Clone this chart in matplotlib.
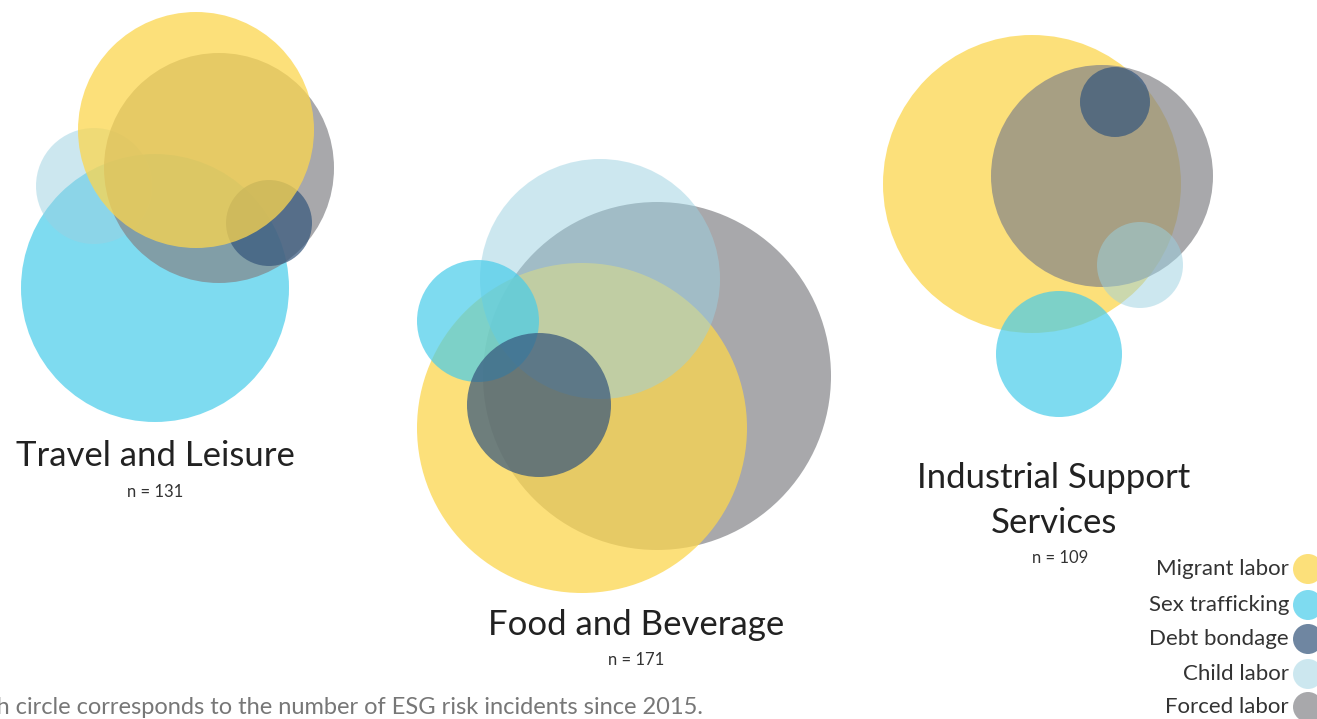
import matplotlib.pyplot as plt
from matplotlib.patches import Circle

plt.rcParams['font.family'] = ['Lato', 'DejaVu Sans']

# risk types (legend order), colours and opacity
risks = ['Migrant labor', 'Sex trafficking', 'Debt bondage', 'Child labor', 'Forced labor']
colors = ['#FCD64E', '#48CCEA', '#37587D', '#9BD1E1', '#838488']
alphas = [0.75, 0.7, 0.72, 0.5, 0.7]

# sectors
sectors = ['Travel and Leisure', 'Food and Beverage', 'Industrial Support']
sector_n = [131, 171, 109]

# circle centre / radius per sector, in risk order (pixel units of the layout)
travel_x = [196, 155, 269, 94, 219]
travel_y = [130, 288, 223, 186, 168]
travel_r = [118, 134, 43, 58, 115]

food_x = [582, 478, 539, 600, 657]
food_y = [428, 321, 405, 279, 376]
food_r = [165, 61, 72, 120, 174]

indus_x = [1032, 1059, 1115, 1140, 1102]
indus_y = [184, 354, 102, 265, 176]
indus_r = [149, 63, 35, 43, 111]

# drawing order (bottom to top) per sector
travel_order = [1, 3, 4, 2, 0]
food_order = [4, 0, 3, 1, 2]
indus_order = [0, 4, 2, 3, 1]

label_x = [155, 636, 1054]
label_y = [456, 625, 478]
n_x = [155, 636, 1060]
n_y = [492, 660, 558]

fig = plt.figure(figsize=(13.17, 7.19), dpi=100)
ax = fig.add_axes([0, 0, 1, 1])
ax.set_xlim(0, 1317)
ax.set_ylim(719, 0)
ax.axis('off')

groups = [(travel_x, travel_y, travel_r, travel_order),
          (food_x, food_y, food_r, food_order),
          (indus_x, indus_y, indus_r, indus_order)]
for gx, gy, gr, order in groups:
    for z, i in enumerate(order):
        ax.add_patch(Circle((gx[i], gy[i]), gr[i], color=colors[i], alpha=alphas[i],
                            lw=0, zorder=2 + z))

for k in range(3):
    ax.text(label_x[k], label_y[k], sectors[k], ha='center', va='center',
            fontsize=25, color='#222222')
    ax.text(n_x[k], n_y[k], 'n = %d' % sector_n[k],
            ha='center', va='center', fontsize=12, color='#333333')
ax.text(1054, 523, 'Services', ha='center', va='center', fontsize=25, color='#222222')

# legend
leg_y = [569, 605, 639, 674, 707]
for i in range(5):
    ax.add_patch(Circle((1308, leg_y[i]), 15, color=colors[i], alpha=alphas[i], lw=0))
    ax.text(1289, leg_y[i], risks[i], ha='right', va='center', fontsize=16, color='#333333')

ax.text(703, 707, 'Each circle corresponds to the number of ESG risk incidents since 2015.',
        ha='right', va='center', fontsize=17, color='#777777')

plt.savefig('out.png', dpi=100)
